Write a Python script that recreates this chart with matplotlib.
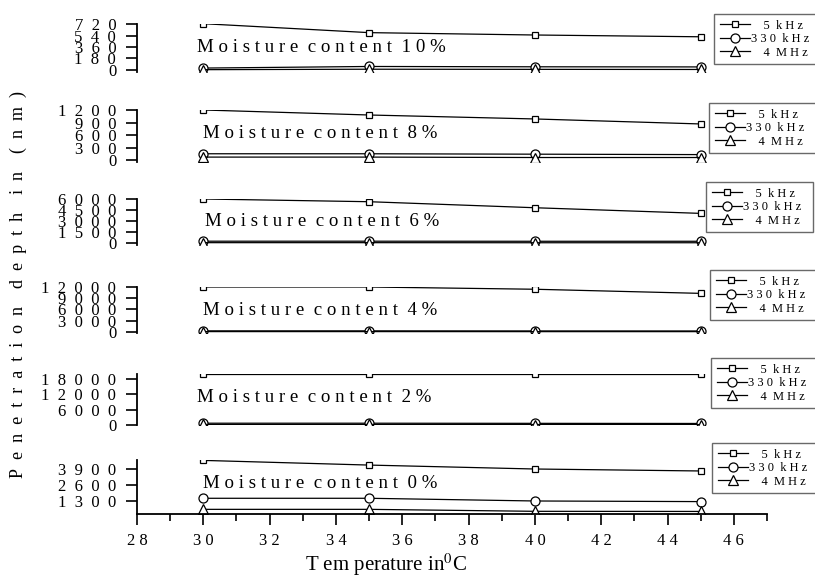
import matplotlib
matplotlib.use("Agg")
import matplotlib.pyplot as plt
from matplotlib.ticker import FixedLocator, FuncFormatter, MultipleLocator

plt.rcParams['font.family'] = ['Liberation Serif', 'DejaVu Serif']
plt.rcParams['mathtext.fontset'] = 'stix'

# temperatures (deg C)
temps = [30, 35, 40, 45]
moisture = ["10%", "8%", "6%", "4%", "2%", "0%"]
freq_labels = ["5 kHz", "330 kHz", "4 MHz"]

# penetration depth (nm), one row per moisture panel (top to bottom)
depth_5khz = [
    [725, 585, 548, 520],
    [1200, 1080, 985, 865],
    [6000, 5630, 4810, 4040],
    [12000, 12000, 11400, 10300],
    [20000, 20000, 20000, 20000],
    [4600, 4220, 3900, 3740],
]
depth_330khz = [
    [30, 55, 50, 48],
    [150, 150, 140, 130],
    [250, 250, 240, 240],
    [300, 300, 280, 270],
    [700, 700, 650, 600],
    [1520, 1520, 1300, 1250],
]
depth_4mhz = [
    [5, 12, 10, 8],
    [70, 70, 60, 60],
    [50, 50, 40, 40],
    [100, 100, 90, 90],
    [200, 200, 180, 170],
    [620, 620, 460, 450],
]
yticks = [
    [0, 180, 360, 540, 720],
    [0, 300, 600, 900, 1200],
    [0, 1500, 3000, 4500, 6000],
    [0, 3000, 6000, 9000, 12000],
    [0, 6000, 12000, 18000],
    [1300, 2600, 3900],
]
ylims = [(-30, 725), (-50, 1200), (-200, 6000), (-300, 12000), (0, 20000), (250, 4600)]

# layout in pixels (figure is 815 x 583)
W, H = 815.0, 583.0
ax_px = [(23.7, 71.9), (110, 162.1), (199, 244.5), (287, 333.1), (373.9, 425), (460.4, 513.9)]
leg_px = [(714, 14), (709, 103), (706, 182), (710, 270), (711, 358), (712, 443)]
txt_px = [(197, 48), (203, 133), (205, 222), (203, 310), (197, 397), (203, 483)]
left_px, right_px = 137, 767


def spaced(s, gap=" ", wordgap="  "):
    return wordgap.join(gap.join(w) for w in s.split(" "))


num_fmt = FuncFormatter(lambda v, p: spaced(str(int(round(v))), "\u2002"))
xnum_fmt = FuncFormatter(lambda v, p: spaced(str(int(round(v)))))

fig = plt.figure(figsize=(8.15, 5.83), dpi=100)

markers = ["s", "o", "^"]
msizes = [5, 6.5, 7]
series = [depth_5khz, depth_330khz, depth_4mhz]

for i in range(6):
    top, bot = ax_px[i]
    ax = fig.add_axes([left_px / W, 1 - bot / H, (right_px - left_px) / W, (bot - top) / H])
    ax.patch.set_alpha(0)
    handles = []
    for k in range(3):
        h, = ax.plot(temps, series[k][i], marker=markers[k], ms=msizes[k], mfc="white",
                     mec="black", mew=0.9, color="black", lw=0.9,
                     label=freq_labels[k])
        handles.append(h)
    ax.set_xlim(28, 47)
    ax.set_ylim(*ylims[i])
    ax.yaxis.set_major_locator(FixedLocator(yticks[i]))
    ax.yaxis.set_major_formatter(num_fmt)
    ax.tick_params(axis="y", direction="out", length=8, width=1.2, pad=7, labelsize=12)
    for s in ["top", "right"]:
        ax.spines[s].set_visible(False)
    ax.spines["left"].set_linewidth(1.3)
    if i < 5:
        ax.spines["bottom"].set_visible(False)
        ax.set_xticks([])
    else:
        ax.spines["bottom"].set_linewidth(1.3)
        ax.xaxis.set_major_locator(MultipleLocator(2))
        ax.xaxis.set_minor_locator(MultipleLocator(1))
        ax.xaxis.set_major_formatter(xnum_fmt)
        ax.tick_params(axis="x", which="major", direction="out", length=8, width=1.2,
                       pad=6, labelsize=12)
        ax.tick_params(axis="x", which="minor", direction="out", length=5, width=1.2)

    lx, ly = leg_px[i]
    labs = ["\u2002\u2002" + spaced("5 kHz") + "\u2002",
            spaced("330 kHz") + "\u2002",
            "\u2002\u2002" + spaced("4 MHz") + "\u2002"]
    leg = fig.legend(handles, labs, loc="upper left",
                     bbox_to_anchor=(lx / W, 1 - ly / H), fontsize=9,
                     frameon=True, fancybox=False, handlelength=2.4,
                     handletextpad=0.1, borderpad=0.45, labelspacing=0.12,
                     borderaxespad=0)
    leg.get_frame().set_edgecolor("#444444")
    leg.get_frame().set_linewidth(1.0)

    tx, ty = txt_px[i]
    fig.text(tx / W, 1 - ty / H, spaced("Moisture content " + moisture[i]),
             fontsize=13.6, va="center", ha="left")

fig.text(18 / W, 1 - 285 / H, spaced("Penetration depth in (nm)", "\u2002", "\u2002\u2002"),
         rotation=90, fontsize=13, va="center", ha="center")
fig.text(386 / W, 1 - 565 / H, "T em perature in$^0$C", fontsize=15,
         va="center", ha="center")

fig.savefig("out.png", dpi=100)
